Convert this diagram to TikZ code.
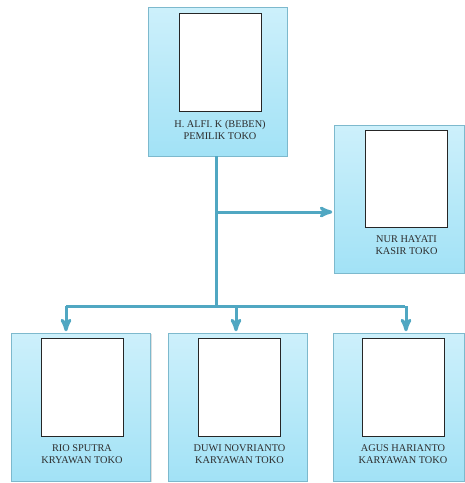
\documentclass[tikz,border=0pt]{standalone}
\usepackage{fontspec}
\setmainfont{Liberation Serif}
\usepackage{tikz}
\usetikzlibrary{arrows}
\usetikzlibrary{positioning}
\usetikzlibrary{shadows}
\definecolor{kartuAtas}{RGB}{205,240,251}
\definecolor{kartuBawah}{RGB}{162,226,246}
\definecolor{garisKartu}{RGB}{125,185,205}
\definecolor{garisHub}{RGB}{80,167,194}
\definecolor{teks}{RGB}{45,45,45}
\tikzset{kartu/.style={draw=garisKartu, top color=kartuAtas, bottom color=kartuBawah,
    minimum width=139pt, minimum height=149pt, inner sep=0pt,
    drop shadow={shadow xshift=1pt, shadow yshift=-1pt, opacity=0.25}}}
\tikzset{foto/.style={draw=black!85, fill=white, minimum width=82pt, minimum height=98pt,
    inner sep=0pt, line width=0.6pt}}
\tikzset{nama/.style={font=\fontsize{10.3}{12.5}\selectfont, text=teks, align=center, inner sep=0pt}}
\tikzset{hub/.style={draw=garisHub, line width=3pt}}

\begin{document}
\begin{tikzpicture}[x=1pt,y=-1pt,>=stealth',shorten >=1.5pt]
   \useasboundingbox (0,0) rectangle (465,483);

   \node[kartu] (Pemilik) at (217.5,81.5) {};
   \node[kartu,minimum width=130pt,minimum height=148pt] (Kasir) at (399,199) {};
   \node[kartu,minimum height=148pt] (Rio)  at (81,407) {};
   \node[kartu,minimum height=148pt] (Duwi) at (237.5,407) {};
   \node[kartu,minimum width=131pt,minimum height=148pt] (Agus) at (398.5,407) {};

   \node[foto] (FPemilik) at (220,62.5) {};
   \node[foto,minimum height=97pt] (FKasir) at (406.5,178.5) {};
   \node[foto] (FRio)  at (82,387) {};
   \node[foto] (FDuwi) at (239.5,387) {};
   \node[foto] (FAgus) at (403,387) {};

   \node[nama, below=8pt of FPemilik] (NPemilik) {H. ALFI. K (BEBEN)\\PEMILIK TOKO};
   \node[nama, below=8pt of FKasir]   (NKasir)   {NUR HAYATI\\KASIR TOKO};
   \node[nama, below=8pt of FRio]     (NRio)     {RIO SPUTRA\\KRYAWAN TOKO};
   \node[nama, below=8pt of FDuwi]    (NDuwi)    {DUWI NOVRIANTO\\KARYAWAN TOKO};
   \node[nama, below=8pt of FAgus]    (NAgus)    {AGUS HARIANTO\\KARYAWAN TOKO};

   \path (Pemilik.south) ++(-1.5,150) coordinate (Bus);
   \draw[hub] ([xshift=-1.5pt]Pemilik.south) -- (Bus);
   \draw[hub,->] ([xshift=-1.5pt,yshift=-13pt]Pemilik.south |- Kasir.west) -- ([yshift=-13pt]Kasir.west);
   \draw[hub] ([xshift=-15pt]Rio.north |- Bus) -- ([xshift=7.5pt]Agus.north |- Bus);
   \draw[hub,->] ([xshift=-15pt]Rio.north |- Bus) -- ([xshift=-15pt]Rio.north);
   \draw[hub,->] ([xshift=-1.5pt]Duwi.north |- Bus) -- ([xshift=-1.5pt]Duwi.north);
   \draw[hub,->] ([xshift=7.5pt]Agus.north |- Bus) -- ([xshift=7.5pt]Agus.north);
\end{tikzpicture}
\end{document}
